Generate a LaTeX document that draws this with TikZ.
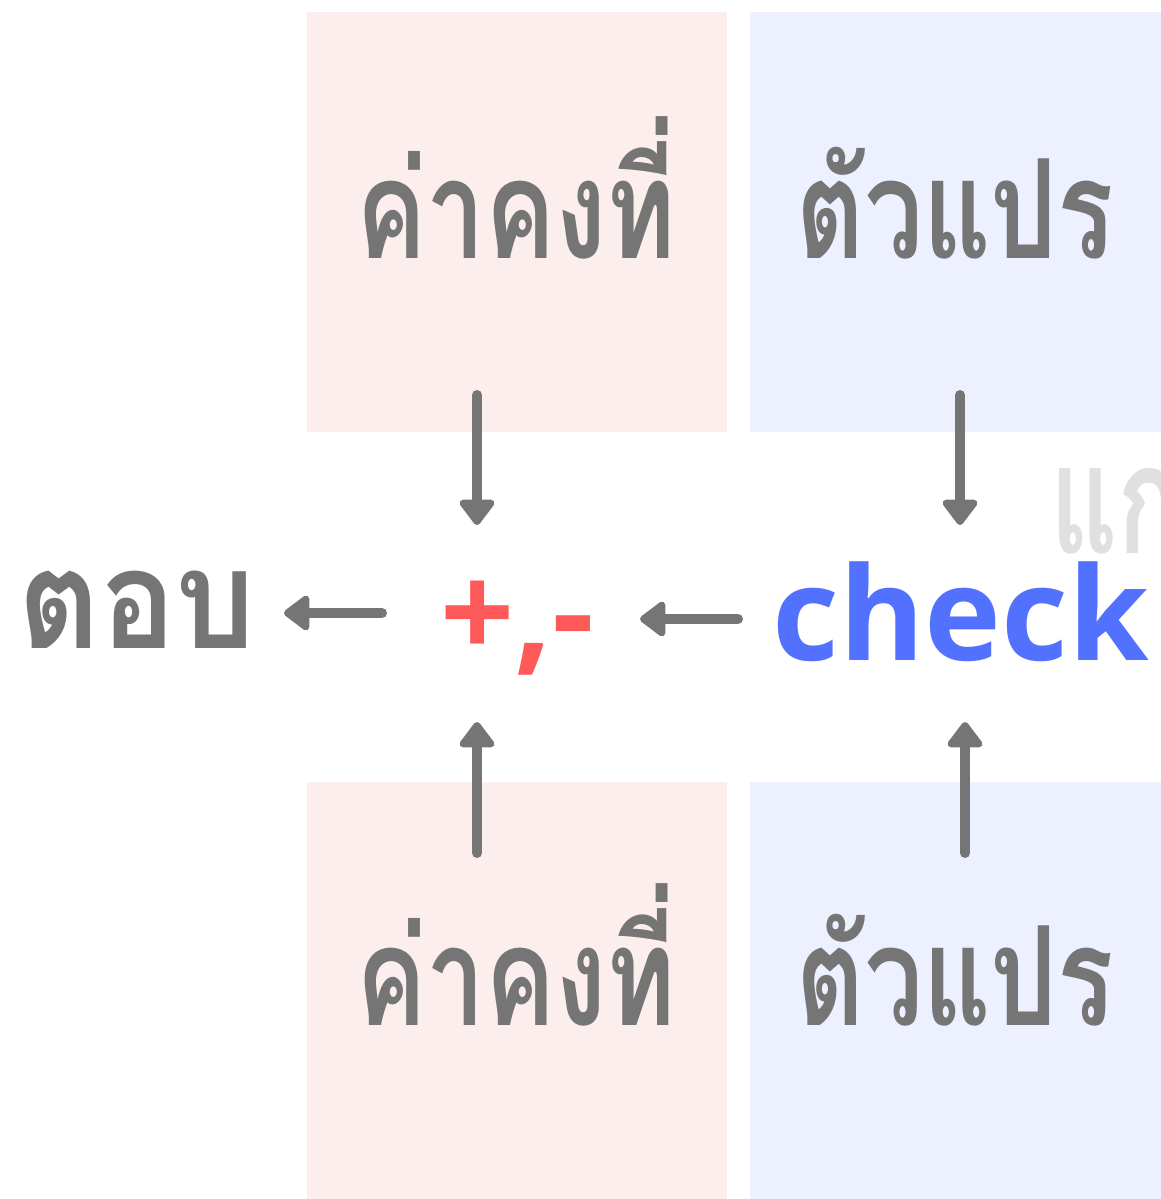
\documentclass[tikz,border=0pt]{standalone}
\usepackage{fontspec}
\setmainfont{Open Sans}
\newfontfamily\thaifont[Script=Thai]{Loma}
\newfontfamily\latinfont{Open Sans}
\usetikzlibrary{arrows.meta}
\definecolor{txtgray}{HTML}{757575}
\definecolor{pinkbg}{HTML}{FDEEEE}
\definecolor{bluebg}{HTML}{EDF0FE}
\definecolor{opred}{HTML}{FF5A5A}
\definecolor{chkblue}{HTML}{5271FF}
\definecolor{ghost}{HTML}{E0E0E0}
\tikzset{
  pinkbox/.style={fill=pinkbg, draw=none},
  bluebox/.style={fill=bluebg, draw=none},
  thai/.style={anchor=base, inner sep=0pt, text=txtgray, xscale=0.76, transform shape, font=\thaifont\bfseries\fontsize{138}{150}\selectfont},
  latin/.style={anchor=base, inner sep=0pt, font=\latinfont\bfseries\fontsize{130}{150}\selectfont},
  flow/.style={draw=txtgray, line width=10pt, line cap=round, -{Triangle[round, length=28pt, width=40pt]}},
}
\begin{document}
\begin{tikzpicture}[x=1pt,y=-1pt]
\useasboundingbox (0,0) rectangle (1161,1199);
\fill[white] (0,0) rectangle (1161,1199);
\fill[pinkbox] (307,12) rectangle (727,432);
\fill[bluebox] (750,12) rectangle (1161,432);
\fill[pinkbox] (307,782) rectangle (727,1199);
\fill[bluebox] (750,782) rectangle (1161,1199);
% texts
\node[thai] (c1) at (516,258) {ค่าคงที่};
\node[thai] (v1) at (955,258) {ตัวแปร};
\node[thai] (c2) at (516,1025) {ค่าคงที่};
\node[thai] (v2) at (955,1025) {ตัวแปร};
\node[thai, xscale=1.2] (ans) at (137,648) {ตอบ};
\node[thai, anchor=base west, text=ghost, yscale=1.1] (fix) at (1050,553) {แก};
\node[latin, text=opred] (op) at (517,658) {+,-};
\node[latin, text=chkblue] (chk) at (961,660) {check};
% arrow coordinates
\coordinate (a1s) at (477,395); \coordinate (a1e) at (477,525);
\coordinate (a2s) at (960,395); \coordinate (a2e) at (960,525);
\coordinate (a3s) at (477,853); \coordinate (a3e) at (477,722);
\coordinate (a4s) at (965,853); \coordinate (a4e) at (965,722);
\coordinate (a5s) at (382,613); \coordinate (a5e) at (284,613);
\coordinate (a6s) at (738,619); \coordinate (a6e) at (640,619);
\draw[flow] (a1s) -- (a1e);
\draw[flow] (a2s) -- (a2e);
\draw[flow] (a3s) -- (a3e);
\draw[flow] (a4s) -- (a4e);
\draw[flow] (a5s) -- (a5e);
\draw[flow] (a6s) -- (a6e);
\end{tikzpicture}
\end{document}
